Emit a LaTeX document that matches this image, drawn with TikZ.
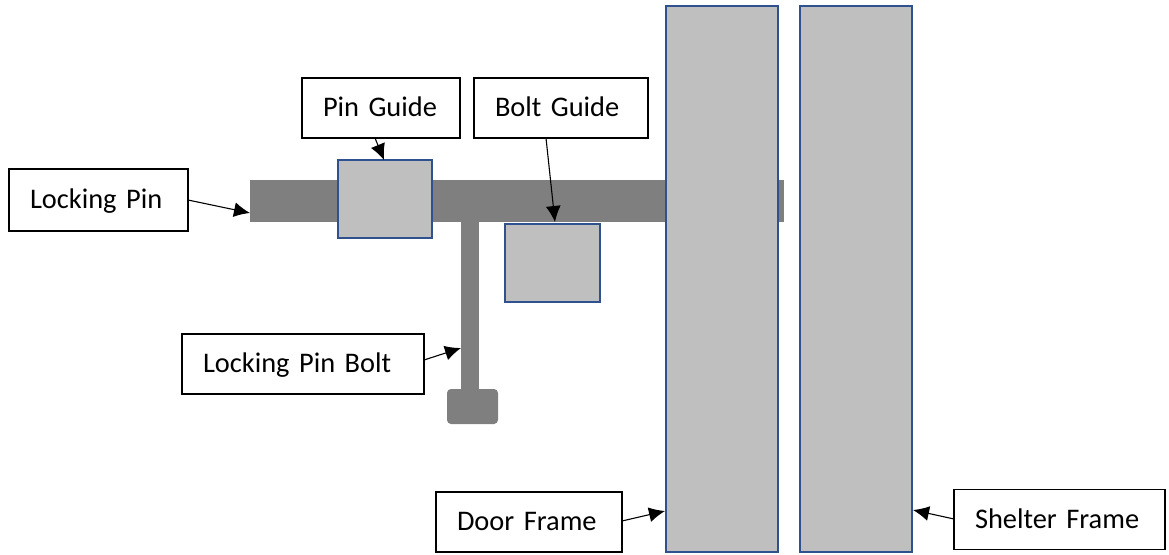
\documentclass[tikz,border=0pt]{standalone}
\usepackage{fontspec}
\setmainfont{Carlito}
\usetikzlibrary{arrows.meta}
\definecolor{partblue}{HTML}{2F528F}
\definecolor{partgrey}{HTML}{BFBFBF}
\definecolor{bargrey}{HTML}{7F7F7F}

\begin{document}
\begin{tikzpicture}[x=1pt,y=-1pt,>={Latex[length=16pt,width=15pt]},
  bar/.style={fill=bargrey,inner sep=0pt,outer sep=0pt},
  part/.style={draw=partblue,line width=2.6pt,fill=partgrey,inner sep=0pt,outer sep=0pt},
  labelbox/.style={draw,line width=1.5pt,fill=white,anchor=west,align=left,inner xsep=21pt,inner ysep=0pt,
    text height=20pt,text depth=3pt,minimum height=60pt,outer sep=0pt,font=\fontsize{28.4}{32}\selectfont}]
  \useasboundingbox (0,0) rectangle (1169,554);
  % pin and bolt
  \node[bar,minimum width=534pt,minimum height=42pt] (pin) at (517,201) {};
  \node[bar,minimum width=18pt,minimum height=172pt] (bolt) at (470,306) {};
  \node[bar,rounded corners=4pt,minimum width=51pt,minimum height=35pt] (handle) at (472.5,406.5) {};
  % guides and frames
  \node[part,minimum width=94pt,minimum height=78pt] (pinguide) at (385,199) {};
  \node[part,minimum width=95pt,minimum height=78pt] (boltguide) at (552.5,263) {};
  \node[part,minimum width=112pt,minimum height=546pt] (doorframe) at (722,279) {};
  \node[part,minimum width=112pt,minimum height=546pt] (shelterframe) at (856,279) {};
  % labels
  \node[labelbox,text width=137pt,minimum height=62pt] (pinlabel) at (9,200) {Locking Pin};
  \node[labelbox,text width=116pt] (pinguidelabel) at (302,108) {Pin Guide};
  \node[labelbox,text width=132pt] (boltguidelabel) at (474,108) {Bolt Guide};
  \node[labelbox,text width=200pt] (boltlabel) at (182,364) {Locking Pin Bolt};
  \node[labelbox,text width=144pt] (doorlabel) at (436,522) {Door Frame};
  \node[labelbox,text width=169pt] (shelterlabel) at (954,519.5) {Shelter Frame};
  % arrow ends
  \coordinate (a_0) at (188,200);
  \coordinate (b_0) at (250,213);
  \coordinate (a_1) at (375,138);
  \coordinate (b_1) at (384,160);
  \coordinate (a_2) at (546,138);
  \coordinate (b_2) at (555,222);
  \coordinate (a_3) at (424,360);
  \coordinate (b_3) at (461,348);
  \coordinate (a_4) at (622,521);
  \coordinate (b_4) at (665,511);
  \coordinate (a_5) at (954,519);
  \coordinate (b_5) at (913,510);
  \path[->,line width=1.1pt]
  (a_0) edge (b_0)
  (a_1) edge (b_1)
  (a_2) edge (b_2)
  (a_3) edge (b_3)
  (a_4) edge (b_4)
  (a_5) edge (b_5);
\end{tikzpicture}
\end{document}
